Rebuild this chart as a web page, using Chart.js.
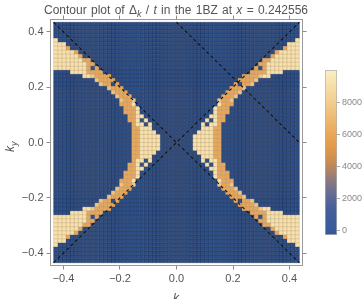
<!DOCTYPE html>
<html>
<head>
<meta charset="utf-8">
<script src="https://cdn.jsdelivr.net/npm/chart.js@4.4.0/dist/chart.umd.min.js"></script>
<style>
  html, body { margin: 0; padding: 0; background: #fff; }
  #wrap { position: relative; width: 364px; height: 299px; overflow: hidden; }
  #main { position: absolute; left: 0; top: 0; }
  #bar { position: absolute; left: 300px; top: 60px; }
</style>
</head>
<body>
<div id="wrap">
  <canvas id="main" width="364" height="299"></canvas>
  <canvas id="bar" width="64" height="190"></canvas>
</div>
<script>
// --- data ---
const cellSize = 0.0145;          // width of one grid cell in k units
const gridHalf = 30;              // cells from k=0 to the edge
const axisTicks = [-0.4, -0.2, 0, 0.2, 0.4];
const barTicks = [0, 2000, 4000, 6000, 8000];
const barMin = -250, barMax = 10050;

// upper-right quadrant (kx>0, ky>0), one row per cell row from the top (ky~0.43)
// down to ky~0: [first column, cell codes]; the other quadrants are its mirror images
const quadRows = [
  [0, ''], [0, ''], [0, ''], [0, ''],
  [29, 'L'],
  [27, 'LLL'],
  [26, 'OLLL'],
  [24, 'OLLLLL'],
  [23, 'OLLLLLL'],
  [21, 'OOLLLLLLL'],
  [20, 'OOLLLLLLLL'],
  [19, 'OdOLLLLLLLL'],
  [18, 'OOOOLLLL'],
  [16, 'OOOOoLL'],
  [15, 'OOOOo'],
  [14, 'OdOOo'],
  [13, 'OOOo'],
  [12, 'OOOo'],
  [11, 'OOOo'],
  [10, 'oOOo'],
  [10, 'LOOO'],
  [9, 'LOOO'],
  [9, 'LOOO'],
  [8, 'LLOO'],
  [7, 'LdLOO'],
  [6, 'LdLLO'],
  [6, 'LLLOO'],
  [5, 'LLLLOO'],
  [4, 'LLLLLOO'],
  [4, 'LLLLLOO']
];
const cellLevels = { '.': 0, 'd': 200, 'o': 7600, 'O': 6000, 'L': 9200 };

// dashed guide lines
const guideLines = [
  [[-0.435, 0.435], [0.435, -0.435]],
  [[-0.435, -0.435], [0.435, 0.435]],
  [[0, 0.435], [0.435, 0]]
];

// colour scale (value, colour)
const colorStops = [
  [0, '#2b4d86'], [1500, '#47609a'], [2500, '#6c6f92'], [3300, '#927c7c'],
  [4200, '#c48a56'], [5200, '#e19a47'], [6200, '#eaa95c'], [7200, '#efbd76'],
  [8200, '#f3d092'], [9200, '#f7e1ac'], [10050, '#faefc6']
];

const fontFamily = "'Liberation Sans', Arial, sans-serif";
Chart.defaults.font.family = fontFamily;

function hexRgb(h) {
  return [parseInt(h.slice(1, 3), 16), parseInt(h.slice(3, 5), 16), parseInt(h.slice(5, 7), 16)];
}
function colorAt(v) {
  if (v <= colorStops[0][0]) return colorStops[0][1];
  for (let i = 1; i < colorStops.length; i++) {
    const [v1, c1] = colorStops[i];
    if (v <= v1) {
      const [v0, c0] = colorStops[i - 1];
      const t = (v - v0) / (v1 - v0);
      const a = hexRgb(c0), b = hexRgb(c1);
      return 'rgb(' + a.map((x, k) => Math.round(x + (b[k] - x) * t)).join(',') + ')';
    }
  }
  return colorStops[colorStops.length - 1][1];
}

// build the cells from the quadrant
const cells = [];
quadRows.forEach(([start, codes], k) => {
  const r = gridHalf - 1 - k;
  for (let c = 0; c < gridHalf; c++) {
    const ch = (c >= start && c < start + codes.length) ? codes[c - start] : '.';
    const v = cellLevels[ch];
    for (const sx of [1, -1]) {
      for (const sy of [1, -1]) {
        cells.push({ x: sx * (c + 0.5) * cellSize, y: sy * (r + 0.5) * cellSize, v: v });
      }
    }
  }
});

function cellRadius(ctx) {
  const s = ctx.chart.scales;
  if (!s.x || !s.y) return 2.8;
  const w = Math.abs(s.x.getPixelForValue(cellSize) - s.x.getPixelForValue(0));
  const h = Math.abs(s.y.getPixelForValue(cellSize) - s.y.getPixelForValue(0));
  return (w + h) / 2 / Math.SQRT2;
}

const fmt = v => (v < 0 ? '\u2212' : '') + Math.abs(v).toFixed(1);
const tickColor = '#8a8a8a';

// title and axis labels with italic parts
const labelsPlugin = {
  id: 'labels',
  afterDraw(chart) {
    const ctx = chart.ctx;
    ctx.save();
    ctx.fillStyle = '#555';
    ctx.textBaseline = 'alphabetic';
    const parts = [
      ['Contour plot of \u0394', 12, false, 0],
      ['k', 9, true, 3],
      [' / ', 12, false, 0],
      ['t', 12, true, 0],
      [' in the 1BZ at ', 12, false, 0],
      ['x', 12, true, 0],
      [' = 0.242556', 12, false, 0]
    ];
    let total = 0;
    parts.forEach(p => {
      ctx.font = (p[2] ? 'italic ' : '') + p[1] + 'px ' + fontFamily;
      p.push(ctx.measureText(p[0]).width);
      total += p[4];
    });
    // spread words a little, as in the original
    const gap = (264 - total) / 12;
    let x = 176 - 132;
    parts.forEach(p => {
      ctx.font = (p[2] ? 'italic ' : '') + p[1] + 'px ' + fontFamily;
      const words = p[0].split(' ');
      words.forEach((w, i) => {
        if (i > 0) x += ctx.measureText(' ').width + gap;
        ctx.fillText(w, x, 14 + p[3]);
        x += ctx.measureText(w).width;
      });
    });

    // k_x
    ctx.font = 'italic 12px ' + fontFamily;
    const kw = ctx.measureText('k').width;
    ctx.fillText('k', 173, 302);
    ctx.font = 'italic 9px ' + fontFamily;
    ctx.fillText('x', 173 + kw, 305);

    // k_y rotated
    ctx.translate(14, 146);
    ctx.rotate(-Math.PI / 2);
    ctx.font = 'italic 12px ' + fontFamily;
    ctx.fillText('k', -6, 0);
    ctx.font = 'italic 9px ' + fontFamily;
    ctx.fillText('y', -6 + kw, 3);
    ctx.restore();
  }
};

function frameAxis(position, size, labels) {
  const horiz = position === 'top' || position === 'bottom';
  return {
    type: 'linear',
    position: position,
    min: horiz ? -0.446 : -0.445,
    max: horiz ? 0.446 : 0.445,
    afterBuildTicks: s => { s.ticks = axisTicks.map(value => ({ value })); },
    afterFit: s => { if (horiz) s.height = size; else s.width = size; },
    ticks: { display: labels, callback: fmt, color: '#555', font: { size: 11 }, padding: 3, maxRotation: 0, autoSkip: false },
    grid: { drawOnChartArea: false, tickLength: 4, color: tickColor },
    border: { color: '#9a9a9a', width: 1 }
  };
}

new Chart(document.getElementById('main'), {
  type: 'scatter',
  data: {
    datasets: [
      {
        data: cells,
        backgroundColor: cells.map(c => colorAt(c.v)),
        borderColor: cells.map(c => c.v < 1000 ? 'rgba(12,28,60,0.5)' : 'rgba(140,100,50,0.3)'),
        borderWidth: 0.6,
        pointStyle: 'rect',
        pointRadius: cellRadius,
        order: 2
      },
      ...guideLines.map(seg => ({
        type: 'line',
        data: seg.map(([x, y]) => ({ x, y })),
        borderColor: '#111',
        borderWidth: 1.1,
        borderDash: [3, 3],
        pointRadius: 0,
        fill: false,
        order: 1
      }))
    ]
  },
  options: {
    responsive: false,
    animation: false,
    events: [],
    layout: { padding: 0 },
    plugins: { legend: { display: false }, tooltip: { enabled: false }, title: { display: false } },
    scales: {
      x: frameAxis('bottom', 33.5, true),
      x2: frameAxis('top', 19.5, false),
      y: frameAxis('left', 50.5, true),
      y2: frameAxis('right', 61.5, false)
    }
  },
  plugins: [labelsPlugin]
});

// colour bar
function barGradient(ctx) {
  const chart = ctx.chart;
  const y = chart.scales.y;
  if (!chart.chartArea || !y) return colorStops[0][1];
  const g = chart.ctx.createLinearGradient(0, y.getPixelForValue(barMin), 0, y.getPixelForValue(barMax));
  const span = barMax - barMin;
  g.addColorStop(0, '#35589a');
  colorStops.slice(1).forEach(([v, c]) => g.addColorStop(Math.min(1, Math.max(0, (v - barMin) / span)), c));
  return g;
}

new Chart(document.getElementById('bar'), {
  type: 'bar',
  data: {
    labels: [''],
    datasets: [{
      data: [[barMin, barMax]],
      backgroundColor: barGradient,
      borderColor: '#b0b0b0',
      borderWidth: 1,
      borderSkipped: false,
      barPercentage: 1,
      categoryPercentage: 1
    }]
  },
  options: {
    responsive: false,
    animation: false,
    events: [],
    layout: { padding: { left: 25, top: 10, bottom: 15, right: 0 } },
    plugins: { legend: { display: false }, tooltip: { enabled: false } },
    scales: {
      x: { display: false },
      y: {
        position: 'right',
        min: barMin,
        max: barMax,
        afterBuildTicks: s => { s.ticks = barTicks.map(value => ({ value })); },
        afterFit: s => { s.width = 27; },
        ticks: { color: '#888', font: { size: 9 }, padding: 2, callback: v => String(v) },
        grid: { drawOnChartArea: false, tickLength: 3, color: '#aaa' },
        border: { display: false }
      }
    }
  }
});
</script>
</body>
</html>
